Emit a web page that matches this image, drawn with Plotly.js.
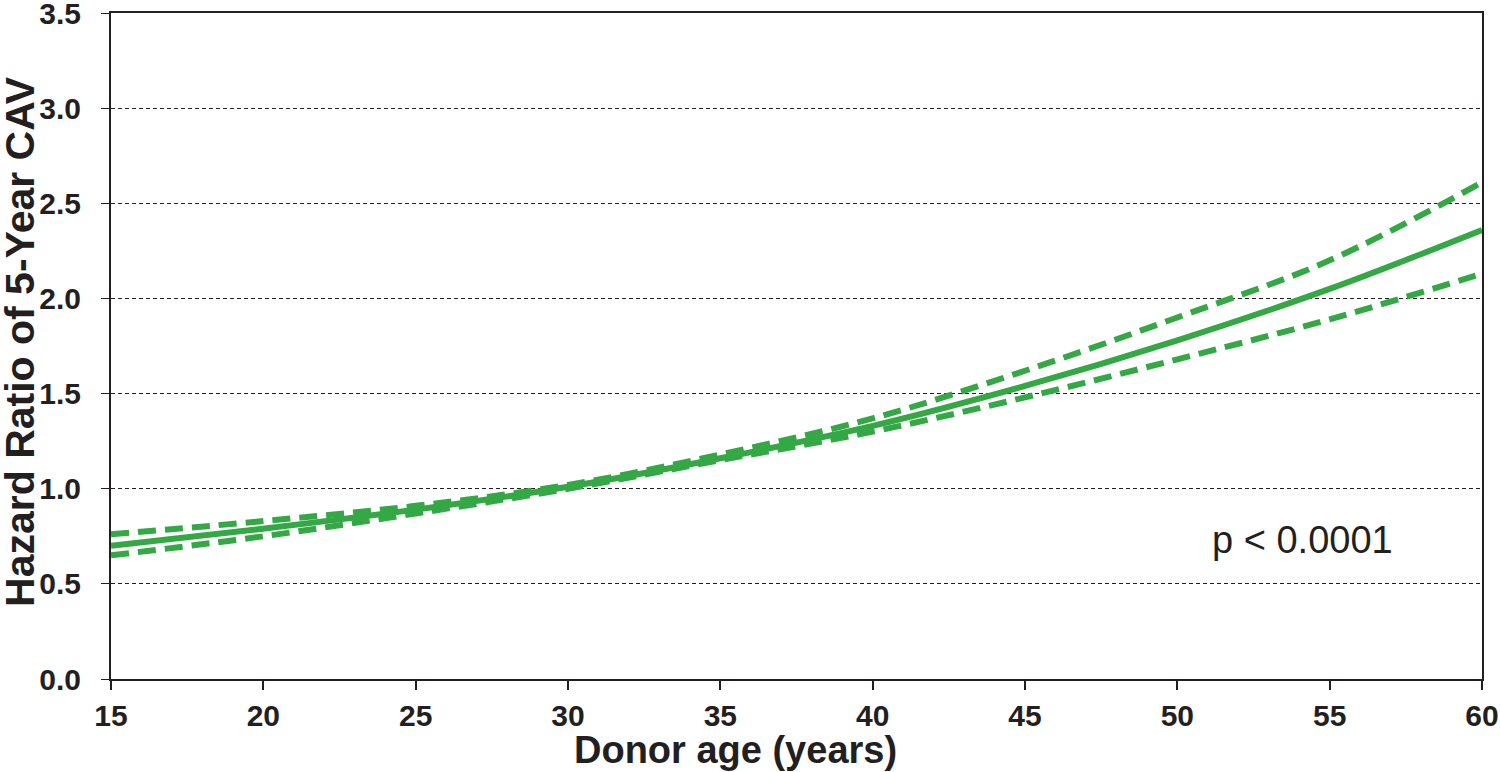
<!DOCTYPE html>
<html>
<head>
<meta charset="utf-8">
<script src="https://cdn.plot.ly/plotly-3.0.1.min.js"></script>
<style>html,body{margin:0;padding:0;background:#fff;}#chart{width:1500px;height:772px;}</style>
</head>
<body>
<div id="chart"></div>
<script>
// Donor age (years)
const donorAge = [15, 20, 25, 30, 35, 40, 45, 50, 55, 60];
// Hazard ratio estimate and 95% confidence bounds
const hazardRatio = [0.70, 0.79, 0.89, 1.01, 1.16, 1.33, 1.54, 1.78, 2.05, 2.36];
const upperCI     = [0.76, 0.83, 0.91, 1.02, 1.18, 1.37, 1.62, 1.90, 2.20, 2.61];
const lowerCI     = [0.65, 0.75, 0.87, 1.00, 1.15, 1.30, 1.48, 1.68, 1.89, 2.13];
const yTicks = [0.0, 0.5, 1.0, 1.5, 2.0, 2.5, 3.0, 3.5];
const xTicks = [15, 20, 25, 30, 35, 40, 45, 50, 55, 60];
const xTitle = 'Donor age (years)';
const yTitle = 'Hazard Ratio of 5-Year CAV';
const pText = 'p &lt; 0.0001';

const green = '#33a845';
const traces = [
  {x: donorAge, y: upperCI, mode: 'lines', line: {color: green, width: 6, dash: '18px,9px', shape: 'spline'}, hoverinfo: 'skip'},
  {x: donorAge, y: lowerCI, mode: 'lines', line: {color: green, width: 6, dash: '18px,9px', shape: 'spline'}, hoverinfo: 'skip'},
  {x: donorAge, y: hazardRatio, mode: 'lines', line: {color: green, width: 6, shape: 'spline'}, hoverinfo: 'skip'}
];

const font = {family: '"Liberation Sans", Arial, sans-serif', color: '#231f20'};
const layout = {
  width: 1500, height: 772,
  margin: {l: 111, r: 18, t: 13, b: 93},
  paper_bgcolor: '#fff', plot_bgcolor: '#fff',
  showlegend: false,
  xaxis: {
    range: [15, 60], tickvals: xTicks, ticktext: xTicks.map(String),
    showline: true, mirror: true, linecolor: '#231f20', linewidth: 2,
    ticks: 'outside', ticklen: 9, tickwidth: 2, tickcolor: '#231f20',
    showgrid: false, zeroline: false,
    ticklabeloverflow: 'allow',
    tickfont: Object.assign({size: 30, weight: 'bold'}, font)
  },
  yaxis: {
    range: [0, 3.5], tickvals: yTicks, ticktext: yTicks.map(v => v.toFixed(1)),
    showline: true, mirror: true, linecolor: '#231f20', linewidth: 2,
    ticks: 'outside', ticklen: 8, tickwidth: 1, tickcolor: '#231f20',
    showgrid: true, gridcolor: '#231f20', gridwidth: 1, griddash: '4px,3px',
    zeroline: false,
    ticklabeloverflow: 'allow',
    tickfont: Object.assign({size: 30, weight: 'bold'}, font),
    ticklabelstandoff: 14
  },
  annotations: [
    {x: 54.1, y: 0.73, xref: 'x', yref: 'y', text: pText, showarrow: false,
     font: Object.assign({size: 38}, font)},
    {x: 0.4555, y: -0.106, xref: 'paper', yref: 'paper', xanchor: 'center', yanchor: 'middle',
     text: '<b>' + xTitle + '</b>', showarrow: false, font: Object.assign({size: 38}, font)},
    {x: -0.0664, y: 0.5075, xref: 'paper', yref: 'paper', xanchor: 'center', yanchor: 'middle',
     textangle: -90, text: '<b>' + yTitle + '</b>', showarrow: false, font: Object.assign({size: 41}, font)}
  ]
};

Plotly.newPlot('chart', traces, layout, {staticPlot: true});
</script>
</body>
</html>
